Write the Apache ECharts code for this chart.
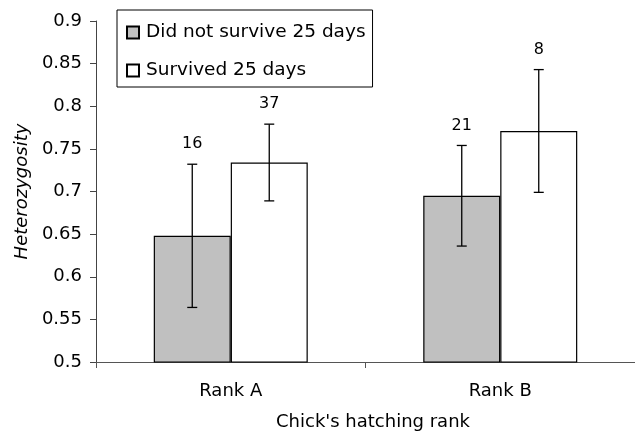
<!DOCTYPE html>
<html>
<head>
<meta charset="utf-8">
<script src="https://cdn.jsdelivr.net/npm/echarts@6/dist/echarts.min.js"></script>
<style>html,body{margin:0;padding:0;background:#fff;}#c{width:635px;height:433px;}</style>
</head>
<body>
<div id="c"></div>
<script>
const categories = ['Rank A', 'Rank B'];
const seriesNames = ['Did not survive 25 days', 'Survived 25 days'];
const diedMean = [0.648, 0.695];
const diedErr = [0.084, 0.059];
const diedN = [16, 21];
const survMean = [0.734, 0.771];
const survErr = [0.045, 0.072];
const survN = [37, 8];
const yTicks = { min: 0.5, max: 0.9, interval: 0.05 };

const FONT = 'DejaVu Sans';
const BAR_W = 77;

function errData(means, errs, ns) {
  return means.map((m, i) => [i, m, errs[i], ns[i]]);
}
function errSeries(name, means, errs, ns, offset) {
  return {
    type: 'custom',
    name: name + ' err',
    data: errData(means, errs, ns),
    encode: { x: 0, y: 1 },
    z: 10,
    silent: true,
    clip: false,
    renderItem: function (params, api) {
      const cat = api.value(0), m = api.value(1), e = api.value(2), n = api.value(3);
      const x = api.coord([cat, m])[0] + offset;
      const top = api.coord([cat, m + e])[1];
      const bot = api.coord([cat, m - e])[1];
      const cap = 5;
      const st = { stroke: '#000', lineWidth: 1.3 };
      return {
        type: 'group',
        children: [
          { type: 'line', shape: { x1: x, y1: top, x2: x, y2: bot }, style: st },
          { type: 'line', shape: { x1: x - cap, y1: top, x2: x + cap, y2: top }, style: st },
          { type: 'line', shape: { x1: x - cap, y1: bot, x2: x + cap, y2: bot }, style: st },
          { type: 'text', style: { text: String(n), x: x, y: top - 20, align: 'center', verticalAlign: 'middle', font: '16px "' + FONT + '"', fill: '#000' } }
        ]
      };
    }
  };
}

const chart = echarts.init(document.getElementById('c'), null, { renderer: 'canvas' });
chart.setOption({
  animation: false,
  backgroundColor: '#fff',
  grid: { left: 96, right: 0, top: 21, bottom: 71, containLabel: false, outerBoundsMode: 'none' },
  legend: {
    orient: 'vertical',
    left: 117,
    top: 10,
    padding: [13, 7, 7, 9],
    itemGap: 19,
    itemWidth: 12,
    itemHeight: 12,
    icon: 'rect',
    borderColor: '#000',
    borderWidth: 1,
    textStyle: { fontSize: 18.5, fontFamily: FONT, color: '#000', padding: [0, 0, 0, 2] },
    data: seriesNames
  },
  xAxis: {
    type: 'category',
    data: categories,
    axisLine: { lineStyle: { color: '#555', width: 1.2 } },
    axisTick: { show: true, length: 6, lineStyle: { color: '#555' } },
    axisLabel: { fontSize: 18, fontFamily: FONT, color: '#000', margin: 20 },
    name: "Chick's hatching rank",
    nameLocation: 'middle',
    nameGap: 51,
    nameTextStyle: { fontSize: 18, fontFamily: FONT, color: '#000', padding: [0, 0, 0, 15] }
  },
  yAxis: {
    type: 'value',
    min: yTicks.min,
    max: yTicks.max,
    interval: yTicks.interval,
    splitLine: { show: false },
    axisLine: { show: true, lineStyle: { color: '#444', width: 1 } },
    axisTick: { show: true, length: 6, lineStyle: { color: '#444' } },
    axisLabel: { fontSize: 18, fontFamily: FONT, color: '#000', margin: 14 },
    name: 'Heterozygosity',
    nameLocation: 'middle',
    nameGap: 59,
    nameTextStyle: { fontSize: 18, fontFamily: FONT, fontStyle: 'italic', color: '#000' }
  },
  series: [
    {
      type: 'bar',
      name: seriesNames[0],
      data: diedMean,
      barWidth: BAR_W,
      barGap: '0%',
      itemStyle: { color: '#c0c0c0', borderColor: '#000', borderWidth: 1.2 }
    },
    {
      type: 'bar',
      name: seriesNames[1],
      data: survMean,
      barWidth: BAR_W,
      barGap: '0%',
      itemStyle: { color: '#ffffff', borderColor: '#000', borderWidth: 1.2 }
    },
    errSeries(seriesNames[0], diedMean, diedErr, diedN, -BAR_W / 2),
    errSeries(seriesNames[1], survMean, survErr, survN, BAR_W / 2)
  ]
});
</script>
</body>
</html>
